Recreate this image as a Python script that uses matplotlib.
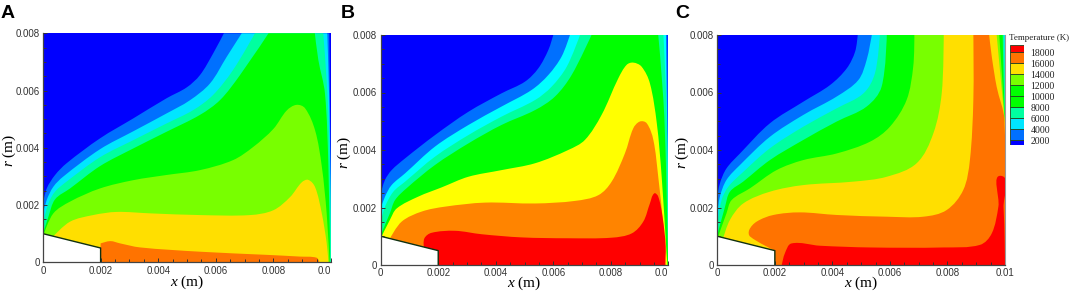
import numpy as np
import matplotlib
matplotlib.use("Agg")
import matplotlib.pyplot as plt
from matplotlib.path import Path
from matplotlib.patches import PathPatch

W, H = 1072, 291
plt.rcParams['font.family'] = ['Liberation Sans', 'DejaVu Sans']
plt.rcParams['mathtext.fontset'] = 'custom'
plt.rcParams['mathtext.it'] = 'Liberation Serif:italic'
plt.rcParams['mathtext.rm'] = 'Liberation Serif'

# colours
DARK = '#0000ff'
MID = '#0070ff'
CYAN = '#00e6ff'
TEAL = '#00ffa0'
GREEN = '#00ff00'
LIME = '#78ff00'
GOLD = '#ffdf00'
YELLOW = '#ffff00'
ORANGE = '#ff7300'
ORANGE_B = '#ff8400'
RED = '#ff0000'

# contour outlines, (x, r) in mm
a_mid = [(0, 2.06), (0.13, 2.58), (0.42, 3.05), (0.82, 3.46), (1.98, 4.33), (3.14, 5.03), (4.29, 5.73),
         (4.99, 6.11), (5.45, 6.54), (5.91, 7.3), (6.28, 8), (9.94, 8), (9.97, 5), (10, 2), (10, 0)]
a_cyan = [(0, 1.71), (0.13, 2.18), (0.36, 2.64), (0.71, 3.0), (1.98, 3.95), (3.14, 4.58), (4.29, 5.2),
          (5.1, 5.66), (5.8, 6.25), (6.38, 7.18), (6.9, 8), (9.87, 8), (9.93, 6), (9.98, 3), (10, 0)]
a_teal = [(0, 1.36), (0.19, 2.06), (0.42, 2.47), (0.82, 2.82), (1.98, 3.67), (3.14, 4.27), (4.29, 4.85),
          (5.22, 5.32), (5.9, 5.84), (6.6, 6.72), (7.36, 8), (9.73, 8), (9.87, 6), (9.96, 3.5), (10, 0)]
a_green = [(0, 1.0), (0.19, 1.6), (0.42, 2.2), (0.94, 2.58), (1.98, 3.36), (3.14, 3.98), (4.29, 4.56),
           (5.45, 5.15), (6.15, 5.67), (6.84, 6.54), (7.83, 8), (9.44, 8), (9.56, 7.07), (9.79, 5.9),
           (9.91, 3.34), (9.97, 0)]
a_lime = [(0.03, 0.99), (0.36, 1.71), (0.94, 2.12), (1.98, 2.58), (3.14, 2.87), (4.29, 3.05), (5.45, 3.22),
          (6.6, 3.57), (7.3, 4.03), (8.0, 4.66), (8.46, 5.3), (8.8, 5.5), (9.1, 5.38), (9.45, 4.6),
          (9.68, 3.35), (9.85, 1.7), (9.95, 0)]
a_gold = [(0.36, 0.91), (0.94, 1.42), (1.74, 1.65), (2.56, 1.76), (3.72, 1.71), (5.45, 1.65), (7.19, 1.65),
          (8.0, 1.82), (8.58, 2.28), (8.98, 2.79), (9.21, 2.88), (9.45, 2.62), (9.68, 1.71), (9.85, 0.67),
          (9.91, 0)]
a_orange = [(2, 0), (2, 0.66), (2.34, 0.74), (2.68, 0.66), (3.37, 0.52), (5.45, 0.37), (7.77, 0.26),
            (8.92, 0.2), (9.5, 0.16), (9.6, 0)]

b_mid = [(0, 2.49), (0.15, 2.96), (0.38, 3.3), (0.85, 3.71), (1.89, 4.52), (3.05, 5.33), (4.2, 5.97),
         (5.02, 6.38), (5.48, 6.84), (5.83, 7.48), (6.0, 8), (9.97, 8), (9.99, 5), (10, 3), (10, 0)]
b_cyan = [(0, 1.97), (0.15, 2.38), (0.38, 2.78), (0.85, 3.19), (1.89, 4.12), (3.05, 4.87), (4.2, 5.51),
          (5.25, 6.09), (5.83, 6.61), (6.29, 7.25), (6.58, 8), (9.92, 8), (9.95, 5.5), (10, 2.5), (10, 0)]
b_teal = [(0, 1.51), (0.15, 2.03), (0.44, 2.55), (0.85, 2.9), (1.89, 3.77), (3.05, 4.52), (4.2, 5.16),
          (5.37, 5.74), (5.94, 6.2), (6.47, 6.9), (6.93, 8), (9.83, 8), (9.92, 6), (9.98, 3), (10, 0)]
b_green = [(0, 1.04), (0.32, 1.8), (0.5, 2.26), (0.9, 2.67), (1.89, 3.48), (3.05, 4.23), (4.2, 4.87),
           (5.37, 5.39), (6.06, 5.86), (6.64, 6.61), (7.33, 8), (9.65, 8), (9.83, 5.74), (9.92, 3.42),
           (9.97, 1.0), (10, 0)]
b_yellow = [(0.03, 0.99), (0.32, 1.57), (0.56, 1.97), (1.31, 2.38), (2.12, 2.7), (3.05, 3.07), (4.2, 3.3),
            (5.37, 3.54), (6.52, 4.0), (7.1, 4.35), (7.68, 5.22), (8.26, 6.49), (8.55, 6.96), (8.78, 7.04),
            (9.07, 6.9), (9.36, 6.32), (9.6, 4.93), (9.77, 3.07), (9.94, 0.4), (9.97, 0)]
b_orange = [(0.32, 0.92), (0.73, 1.51), (1.43, 1.86), (2.24, 2.03), (3.63, 2.17), (5.37, 2.14), (6.76, 2.23),
            (7.57, 2.43), (8.03, 2.9), (8.49, 3.88), (8.78, 4.75), (9.01, 4.99), (9.25, 4.93), (9.48, 4.35),
            (9.65, 3.07), (9.83, 1.33), (9.92, 0)]
b_red = [(1.5, 0.6), (1.52, 0.93), (1.77, 1.12), (2.58, 1.19), (3.51, 1.07), (4.9, 0.96), (6.52, 0.93),
         (8.03, 0.95), (8.73, 1.1), (9.13, 1.51), (9.36, 2.14), (9.51, 2.49), (9.65, 2.38), (9.8, 1.68),
         (9.91, 0.64), (9.88, 0)]

c_mid = [(0, 2.38), (0.09, 2.84), (0.32, 3.36), (0.79, 3.88), (1.83, 4.93), (2.99, 5.68), (3.92, 6.26),
         (4.5, 6.84), (4.79, 7.42), (4.88, 8), (10, 8), (10, 0)]
c_cyan = [(0, 1.8), (0.09, 2.38), (0.32, 2.96), (0.79, 3.48), (1.83, 4.46), (2.99, 5.22), (4.15, 5.86),
          (4.9, 6.43), (5.19, 7.13), (5.37, 8), (10, 8), (10, 0)]
c_teal = [(0, 1.39), (0.15, 2.26), (0.38, 2.72), (0.85, 3.19), (1.83, 4.06), (2.99, 4.81), (4.15, 5.45),
          (5.08, 5.97), (5.48, 6.67), (5.65, 8), (9.97, 8), (10, 6), (10, 0)]
c_green = [(0, 1.04), (0.27, 2.03), (0.44, 2.55), (0.9, 2.9), (1.83, 3.65), (2.99, 4.35), (4.15, 4.99),
           (5.19, 5.51), (5.71, 6.2), (5.89, 8), (9.92, 8), (9.95, 6.5), (10, 4.9), (10, 0)]
c_lime = [(0.03, 0.99), (0.32, 1.8), (0.5, 2.26), (1.14, 2.67), (2.06, 3.3), (2.99, 3.65), (4.15, 3.88),
          (5.31, 4.29), (6.0, 4.81), (6.58, 5.74), (6.81, 6.9), (6.85, 8), (9.8, 8), (9.9, 6.5), (10, 4.9),
          (10, 0)]
c_gold = [(0.21, 0.95), (0.44, 1.57), (0.9, 2.14), (1.83, 2.55), (2.99, 2.78), (4.73, 2.9), (5.89, 3.07),
          (6.93, 3.54), (7.51, 4.58), (7.8, 5.97), (7.87, 8), (9.71, 8), (9.85, 6.5), (10, 4.9), (10, 0)]
c_orange = [(2, 0.5), (1.14, 0.99), (1.11, 1.22), (1.37, 1.51), (1.95, 1.74), (2.87, 1.83), (4.15, 1.74),
            (5.89, 1.68), (7.16, 1.68), (7.97, 1.91), (8.55, 2.61), (8.78, 3.65), (8.9, 5.74), (8.9, 8),
            (9.45, 8), (9.54, 7.25), (9.71, 6.2), (9.98, 5.04), (10, 0)]
c_red = [(2.24, 0), (2.35, 0.41), (2.58, 0.75), (3.57, 0.67), (5.31, 0.61), (7.86, 0.61), (9.13, 0.7),
         (9.54, 1.1), (9.77, 2.03), (9.87, 3.1), (9.95, 2.0), (9.99, 0.8), (10, 0)]

a_bands = [(a_mid, MID), (a_cyan, CYAN), (a_teal, TEAL), (a_green, GREEN), (a_lime, LIME), (a_gold, GOLD),
           (a_orange, ORANGE)]
b_bands = [(b_mid, MID), (b_cyan, '#00ffff'), (b_teal, TEAL), (b_green, GREEN), (b_yellow, YELLOW),
           (b_orange, ORANGE_B), (b_red, RED)]
c_bands = [(c_mid, MID), (c_cyan, CYAN), (c_teal, TEAL), (c_green, GREEN), (c_lime, LIME), (c_gold, GOLD),
           (c_orange, ORANGE), (c_red, RED)]

cone_x = [0, 0.002, 0.002, 0]
cone_r = [0.001, 0.0005, 0, 0]

x_ticks = [0, 0.002, 0.004, 0.006, 0.008, 0.01]
x_labels_cut = ['0', '0.002', '0.004', '0.006', '0.008', '0.0']
x_labels = ['0', '0.002', '0.004', '0.006', '0.008', '0.01']
r_ticks = [0, 0.002, 0.004, 0.006, 0.008]
r_labels = ['0', '0.002', '0.004', '0.006', '0.008']

legend_levels = [2000, 4000, 6000, 8000, 10000, 12000, 14000, 16000, 18000]
legend_edges = [1091, 2000, 4000, 6000, 8000, 10000, 12000, 14000, 16000, 18000, 19273]
legend_colors = [DARK, MID, CYAN, TEAL, GREEN, GREEN, LIME, GOLD, ORANGE, RED]


def px_axes(fig, left, top, right, bottom):
    return fig.add_axes([left / W, 1 - bottom / H, (right - left) / W, (bottom - top) / H])


def outline_path(outline):
    # bezier through the read points, sharp where a contour meets the frame
    pts = np.array(outline, dtype=float)
    n = len(pts)
    corner = (pts[:, 1] >= 8) | (pts[:, 1] <= 0) | (pts[:, 0] >= 10) | (pts[:, 0] == 2)
    corner[0] = corner[-1] = True
    verts = [pts[0]]
    codes = [Path.MOVETO]
    for i in range(n - 1):
        p0, p1 = pts[i], pts[i + 1]
        seg = np.hypot(*(p1 - p0))
        t0 = np.zeros(2) if corner[i] else (p1 - pts[i - 1]) / np.hypot(*(p1 - pts[i - 1]))
        t1 = np.zeros(2) if corner[i + 1] else (pts[i + 2] - p0) / np.hypot(*(pts[i + 2] - p0))
        verts += [p0 + t0 * seg / 3, p1 - t1 * seg / 3, p1]
        codes += [Path.CURVE4] * 3
    verts += [np.array([0.0, 0.0]), pts[0]]
    codes += [Path.LINETO, Path.CLOSEPOLY]
    return Path(np.array(verts) * 1e-3, codes)


def draw_panel(fig, box, bands, letter, letter_x, xlabels, ylabel_x, xlabel_y):
    ax = px_axes(fig, *box)
    ax.set_facecolor(DARK)
    for outline, color in bands:
        ax.add_patch(PathPatch(outline_path(outline), facecolor=color, lw=0))
    ax.fill(cone_x, cone_r, color='white', lw=0, zorder=2)
    ax.plot(cone_x[:3], cone_r[:3], color='#103010', lw=1.0, zorder=2.2)

    ax.set_xlim(0, 0.01)
    ax.set_ylim(0, 0.008)
    ax.set_xticks(x_ticks)
    ax.set_xticklabels(xlabels)
    ax.set_yticks(r_ticks)
    ax.set_yticklabels(r_labels)
    ax.set_xticks(np.arange(0, 0.0101, 0.0005), minor=True)
    ax.set_yticks(np.arange(0, 0.0081, 0.0005), minor=True)
    ax.tick_params(which='major', direction='in', length=3, width=0.7, color='#333333',
                   labelsize=7, labelcolor='#333333', pad=2.5)
    ax.tick_params(which='minor', direction='in', length=2, width=0.7, color='#333333')
    if xlabels[-1] == '0.0':
        ax.get_xticklabels()[-1].set_ha('right')

    for side in ['top', 'right']:
        ax.spines[side].set_visible(False)
    for side in ['left', 'bottom']:
        ax.spines[side].set_color('#444444')
        ax.spines[side].set_linewidth(0.9)

    ax.set_xlabel(r'$\mathit{x}$ (m)', family='Liberation Serif', fontsize=11)
    ax.set_ylabel(r'$\mathit{r}$ (m)', family='Liberation Serif', fontsize=11)
    ax.xaxis.set_label_coords(0.5, xlabel_y)
    ax.yaxis.set_label_coords(ylabel_x, 0.49)
    fig.text(letter_x / W, 1 - 18 / H, letter, fontsize=14, fontweight='bold', color='black')
    return ax


fig = plt.figure(figsize=(W / 100, H / 100), dpi=100)

draw_panel(fig, (43, 33.3, 331, 262.3), a_bands, 'A', 1, x_labels_cut, -0.087, -0.05)
draw_panel(fig, (380.7, 35, 668.3, 265), b_bands, 'B', 341, x_labels_cut, -0.095, -0.04)
ax_c = draw_panel(fig, (717.3, 35, 1005, 265), c_bands, 'C', 675, x_labels, -0.093, -0.04)
ax_c.spines['right'].set_visible(True)
ax_c.spines['right'].set_color('#999999')

# legend
leg = px_axes(fig, 1009.5, 45, 1023.5, 145)
for lo, hi, color in zip(legend_edges[:-1], legend_edges[1:], legend_colors):
    leg.bar(0.5, hi - lo, bottom=lo, width=1, color=color, edgecolor='#224422', lw=0.6)
leg.set_xlim(0, 1)
leg.set_ylim(legend_edges[0], legend_edges[-1])
leg.set_xticks([])
leg.yaxis.tick_right()
leg.set_yticks(legend_levels)
leg.set_yticklabels([str(v) for v in legend_levels], family='Liberation Serif', fontsize=7, color='#222222')
leg.tick_params(axis='y', length=0, pad=5)
for s in leg.spines.values():
    s.set_visible(False)
fig.text(1009 / W, 1 - 38.5 / H, 'Temperature (K)', family='Liberation Serif', fontsize=6.5,
         color='#222222', va='center')

fig.savefig('out.png', dpi=100)
